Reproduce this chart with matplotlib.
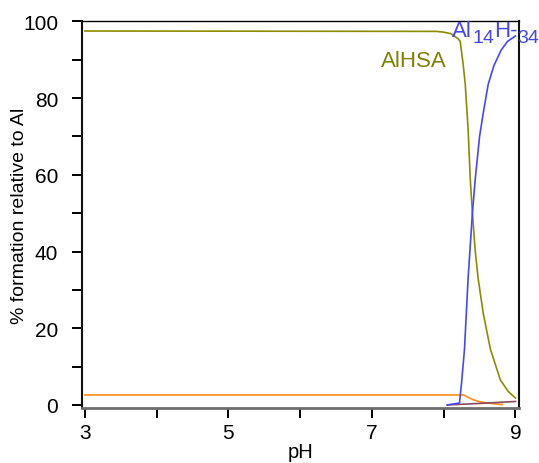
import matplotlib
matplotlib.use("Agg")
import matplotlib.pyplot as plt
import numpy as np

plt.rcParams["font.family"] = ["Liberation Sans", "DejaVu Sans"]

# species distribution vs pH
ph_alhsa = [3.0, 7.9, 8.0, 8.1, 8.2, 8.23, 8.27, 8.30, 8.34, 8.37, 8.40, 8.44, 8.48, 8.55, 8.65, 8.79, 8.9, 9.0]
pct_alhsa = [97.5, 97.4, 97.2, 96.8, 95.5, 94.8, 89.0, 83.7, 72.0, 59.0, 50.0, 40.0, 33.0, 24.0, 14.6, 6.5, 3.5, 1.8]

ph_al14 = [8.05, 8.22, 8.25, 8.29, 8.34, 8.40, 8.44, 8.50, 8.55, 8.62, 8.70, 8.80, 8.89, 9.0]
pct_al14 = [0.0, 0.5, 6.0, 14.6, 33.0, 50.0, 59.0, 70.0, 76.0, 83.6, 88.5, 92.5, 94.8, 96.2]

ph_orange = [3.0, 8.28, 8.35, 8.42, 8.51, 8.65, 8.82]
pct_orange = [2.6, 2.6, 1.9, 1.3, 0.8, 0.4, 0.1]

ph_brown = [8.05, 8.5, 9.0]
pct_brown = [0.0, 0.4, 0.9]

# label pieces: (text, fontsize, baseline shift in px)
al14_parts = [("Al", 16, 0), ("14", 14, -6), ("H-", 16, 0), ("34", 14, -6)]

fig = plt.figure(figsize=(5.39, 4.64), dpi=100)
ax = fig.add_axes([0.152, 0.1185, 0.811, 0.834])

ax.plot(ph_orange, pct_orange, color="#ff8c1a", lw=1.2)
ax.plot(ph_brown, pct_brown, color="#8a4a5a", lw=1.2)
ax.plot(ph_alhsa, pct_alhsa, color="#8c8c00", lw=1.2)
ax.plot(ph_al14, pct_al14, color="#4646ff", lw=1.2)

ax.set_xlim(2.96, 9.05)
ax.set_ylim(-0.8, 100.1)

ax.set_xticks([3, 4, 5, 6, 7, 8, 9])
ax.set_xticklabels(["3", "", "5", "", "7", "", "9"])
ax.set_yticks(np.arange(0, 101, 10))
ax.set_yticklabels([str(v) if v % 20 == 0 else "" for v in range(0, 101, 10)])
ax.tick_params(direction="out", length=7, width=1.4, labelsize=15, color="black")
ax.tick_params(axis="y", pad=10)
ax.tick_params(axis="x", pad=4)

for side in ["left", "right"]:
    ax.spines[side].set_linewidth(1.5)
    ax.spines[side].set_color("#111111")
ax.spines["top"].set_linewidth(1.0)
ax.spines["bottom"].set_linewidth(2.0)
ax.spines["bottom"].set_color("#6e6e6e")

ax.set_xlabel("pH", fontsize=14.5, labelpad=0)
ax.set_ylabel("% formation relative to Al", fontsize=14, va="center")
ax.yaxis.set_label_coords(-0.142, 0.5)

ax.text(7.12, 89.7, "AlHSA", color="#808000", fontsize=16, ha="left", va="center")

# blue label built piece by piece (pixel positions) so subscripts stay large
blue = "#4646ee"
renderer = fig.canvas.get_renderer()
W, H = fig.bbox.width, fig.bbox.height
xp, yp = ax.transData.transform((8.12, 96.3))
for s, fs, dy in al14_parts:
    t = fig.text(xp / W, (yp + dy) / H, s, color=blue, fontsize=fs,
                 ha="left", va="baseline")
    xp += t.get_window_extent(renderer).width

fig.savefig("out.png", dpi=100)
